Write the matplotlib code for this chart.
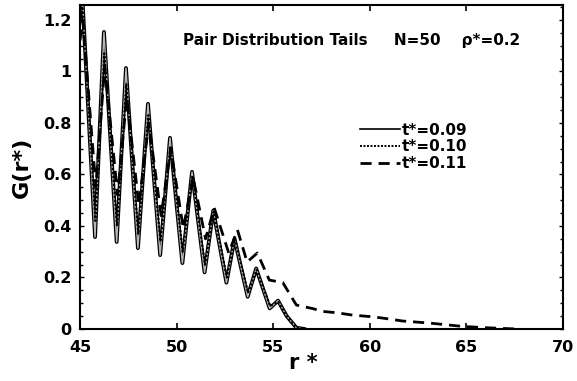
import matplotlib
matplotlib.use("Agg")
import matplotlib.pyplot as plt
import matplotlib.patheffects as pe
from matplotlib.lines import Line2D
from matplotlib.ticker import MultipleLocator, FuncFormatter

plt.rcParams['font.family'] = ['DejaVu Sans']
plt.rcParams['font.weight'] = 'bold'

# t*=0.09 (solid)
r_09 = [45.0, 45.1, 45.78, 46.24, 46.9, 47.38, 48.0, 48.52, 49.15, 49.66, 50.3, 50.8,
        51.45, 51.9, 52.58, 53.0, 53.68, 54.12, 54.82, 55.25, 55.7, 56.2, 56.6]
g_09 = [1.20, 1.32, 0.357, 1.153, 0.338, 1.013, 0.314, 0.874, 0.287, 0.742, 0.256, 0.61,
        0.22, 0.46, 0.18, 0.35, 0.125, 0.235, 0.08, 0.11, 0.05, 0.005, 0.0]

# t*=0.10 (dotted)
r_10 = [45.0, 45.12, 45.8, 46.26, 46.92, 47.4, 48.02, 48.54, 49.17, 49.68, 50.32, 50.82,
        51.47, 51.92, 52.6, 53.02, 53.7, 54.14, 54.84, 55.27, 55.7, 56.2, 56.6]
g_10 = [1.18, 1.26, 0.42, 1.07, 0.40, 0.95, 0.37, 0.83, 0.34, 0.71, 0.30, 0.595,
        0.25, 0.455, 0.20, 0.35, 0.14, 0.23, 0.09, 0.105, 0.05, 0.005, 0.0]

# t*=0.11 (dashed)
r_11 = [45.0, 45.15, 45.82, 46.28, 46.95, 47.42, 48.05, 48.56, 49.2, 49.7, 50.35, 50.85,
        51.5, 51.95, 52.7, 53.15, 53.65, 54.18, 54.8, 55.5, 56.2, 57.0, 57.6, 58.3,
        59.1, 60.2, 60.7, 61.7, 63.1, 64.8, 66.0, 67.6]
g_11 = [1.12, 1.20, 0.55, 1.02, 0.52, 0.90, 0.48, 0.80, 0.44, 0.70, 0.39, 0.59,
        0.35, 0.47, 0.295, 0.385, 0.26, 0.295, 0.19, 0.18, 0.093, 0.08, 0.068, 0.063,
        0.054, 0.047, 0.042, 0.031, 0.023, 0.01, 0.005, 0.0]

labels = ['t*=0.09', 't*=0.10', 't*=0.11']
x_ticks = [45, 50, 55, 60, 65, 70]
y_ticks = [0, 0.2, 0.4, 0.6, 0.8, 1.0, 1.2]

fig = plt.figure(figsize=(5.77, 3.81), dpi=100)
ax = fig.add_axes([0.1386, 0.1365, 0.8371, 0.8505])

ax.plot(r_09, g_09, color='#b8b8b8', lw=1.0,
        path_effects=[pe.Stroke(linewidth=2.8, foreground='black'), pe.Normal()])
ax.plot(r_10, g_10, color='black', lw=1.6, ls=(0, (1, 0.8)))
ax.plot(r_11, g_11, color='black', lw=2.0, ls=(0, (4, 2.5)))

ax.set_xlim(45, 70)
ax.set_ylim(0, 1.258)
ax.set_xticks(x_ticks)
ax.set_yticks(y_ticks)
ax.yaxis.set_minor_locator(MultipleLocator(0.05))
ax.yaxis.set_major_formatter(FuncFormatter(lambda v, p: '%g' % round(v, 2)))
ax.tick_params(which='both', direction='in', top=True, right=True, labelsize=11.5)
ax.tick_params(axis='x', which='major', length=4, width=1.2, pad=8)
ax.tick_params(axis='y', which='major', length=3, width=1.0, pad=6)
ax.tick_params(axis='y', which='minor', length=2, width=1.0)
for s in ax.spines.values():
    s.set_linewidth(1.5)

ax.set_xlabel('r *', fontsize=15, fontweight='bold')
ax.xaxis.set_label_coords(0.462, -0.075)
ax.set_ylabel('G(r*)', fontsize=16, fontweight='bold')
ax.yaxis.set_label_coords(-0.10, 0.5)

ax.text(50.33, 1.12, 'Pair Distribution Tails     N=50    \u03c1*=0.2',
        fontsize=11, fontweight='bold', va='center')

handles = [Line2D([], [], color='black', lw=1.2),
           Line2D([], [], color='black', lw=1.4, ls=(0, (1, 0.8))),
           Line2D([], [], color='black', lw=2.0, ls=(0, (4, 2.5)))]
ax.legend(handles, labels, loc='upper left', bbox_to_anchor=(0.58, 0.637), frameon=False,
          fontsize=11, handlelength=2.6, handletextpad=0.1, labelspacing=0.12,
          borderpad=0, borderaxespad=0)

fig.savefig('out.png', dpi=100)
